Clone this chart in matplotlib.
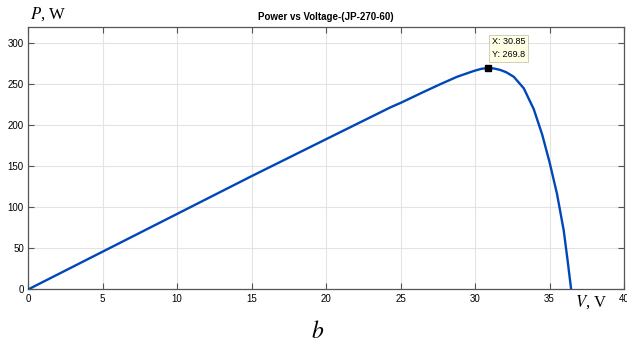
import matplotlib.pyplot as plt
from matplotlib import font_manager

# P-V curve (volts, watts)
volts = [0, 5, 10, 15, 20, 24.3, 25.05, 26.55, 27.67, 28.79, 29.9, 30.4, 30.85,
         31.3, 31.7, 32.1, 32.6, 33.27, 33.94, 34.5, 35.0, 35.5, 35.95, 36.2, 36.45]
power = [0, 46, 92, 138, 183, 221.6, 227.6, 240.6, 250, 259, 266, 268.6, 269.8,
         269.0, 267.3, 264.5, 259, 245, 219.6, 189, 155, 116.5, 72, 37, 0]
mpp_v, mpp_p = 30.85, 269.8
xticks = [0, 5, 10, 15, 20, 25, 30, 35, 40]
yticks = [0, 50, 100, 150, 200, 250, 300]

names = {f.name for f in font_manager.fontManager.ttflist}
tick_font = 'Liberation Sans Narrow' if 'Liberation Sans Narrow' in names else 'Liberation Sans'

fig = plt.figure(figsize=(6.27, 3.38), dpi=100)
ax = fig.add_axes([0.0447, 0.1435, 0.9506, 0.7775])

ax.plot(volts, power, color='#0047b8', lw=1.7, zorder=3)
ax.plot([mpp_v], [mpp_p], 's', color='black', ms=4, zorder=4)

ax.set_xlim(0, 40)
ax.set_ylim(0, 320)
ax.set_xticks(xticks)
ax.set_yticks(yticks)
ax.grid(True, color='#e3e3e3', lw=0.8)
ax.set_axisbelow(True)
ax.tick_params(direction='in', length=4, width=0.8, color='#555555',
               top=True, right=True, labelsize=7, pad=3)
for lab in ax.get_xticklabels() + ax.get_yticklabels():
    lab.set_fontfamily(tick_font)
for s in ax.spines.values():
    s.set_color('#555555')
    s.set_linewidth(0.9)

ax.set_title('Power vs Voltage-(JP-270-60)', fontsize=7, fontweight='bold',
             family='Liberation Sans', pad=5)

# data tip
ax.annotate('X: 30.85\nY: 269.8', xy=(mpp_v, mpp_p), xytext=(3, 8),
            textcoords='offset points', fontsize=6.5, family=tick_font,
            linespacing=1.5,
            bbox=dict(boxstyle='square,pad=0.3', fc='#ffffe6', ec='#c8c8b4', lw=0.6))

fig.text(0.048, 0.945, r'$P$, W', fontsize=12, family='Liberation Serif',
         math_fontfamily='stix')
fig.text(0.917, 0.092, r'$V$, V', fontsize=12, family='Liberation Serif',
         math_fontfamily='stix')
fig.text(0.507, 0.0, r'$b$', fontsize=17, math_fontfamily='stix', ha='center')

fig.savefig('out.png', dpi=100)
